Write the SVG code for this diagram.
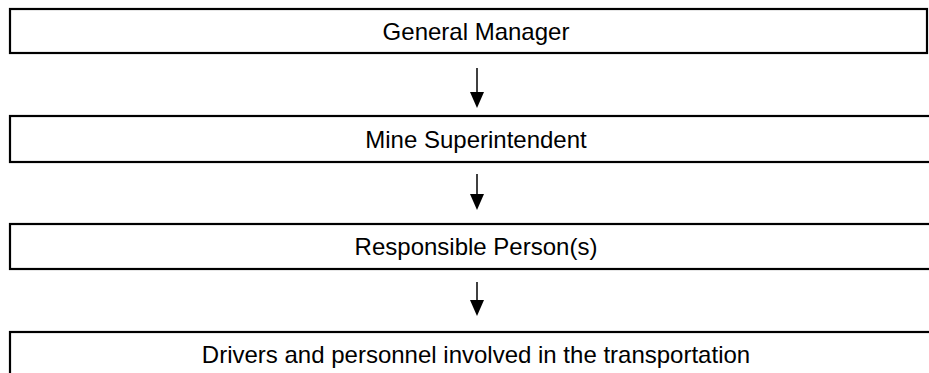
<svg xmlns="http://www.w3.org/2000/svg" width="929" height="373" viewBox="0 0 929 373">
<defs>
<style>
.box{fill:#fff;stroke:#000;stroke-width:2.2}
.lbl{font-family:"Liberation Sans",Arial,sans-serif;font-size:24px;fill:#000;text-anchor:middle}
.con{stroke:#000;stroke-width:1.5;fill:none}
.head{fill:#000}
</style>
</defs>
<rect width="929" height="373" fill="#fff"/>
<g id="n1"><rect class="box" x="10" y="9" width="917" height="44"/><text class="lbl" x="476" y="40">General Manager</text></g>
<g id="n2"><rect class="box" x="10" y="116" width="930" height="46"/><text class="lbl" x="476" y="148">Mine Superintendent</text></g>
<g id="n3"><rect class="box" x="10" y="224" width="930" height="45"/><text class="lbl" x="476" y="255">Responsible Person(s)</text></g>
<g id="n4"><rect class="box" x="10" y="332" width="930" height="46"/><text class="lbl" x="476" y="363">Drivers and personnel involved in the transportation</text></g>
<g id="connectors">
<line class="con" x1="477" y1="68" x2="477" y2="95"/><polygon class="head" points="470,92 484,92 477,108"/>
<line class="con" x1="477" y1="174" x2="477" y2="197"/><polygon class="head" points="470,194 484,194 477,210"/>
<line class="con" x1="477" y1="282" x2="477" y2="303"/><polygon class="head" points="470,300 484,300 477,316"/>
</g>
</svg>
